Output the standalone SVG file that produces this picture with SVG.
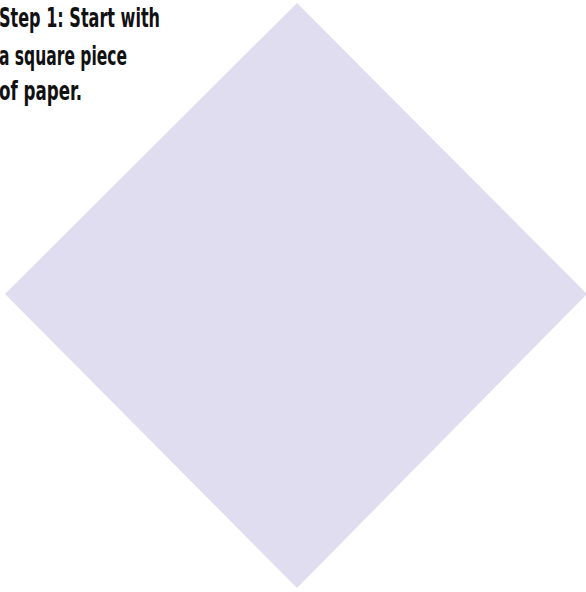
<svg xmlns="http://www.w3.org/2000/svg" width="586" height="592" viewBox="0 0 586 592">
<style>
.lbl{font-family:"DejaVu Sans Condensed","DejaVu Sans","Liberation Sans",sans-serif;font-stretch:condensed;font-weight:bold;font-size:26px;fill:#111}
</style>
<rect width="586" height="592" fill="#ffffff"/>
<g id="paper">
<polygon points="297,3 587,294 297,588 5,294" fill="#e1ddf0"/>
</g>
<g id="caption">
<text class="lbl" x="-1" y="27" textLength="161" lengthAdjust="spacingAndGlyphs">Step 1: Start with</text>
<text class="lbl" x="-1" y="65" textLength="128" lengthAdjust="spacingAndGlyphs">a square piece</text>
<text class="lbl" x="-1" y="100" textLength="83" lengthAdjust="spacingAndGlyphs">of paper.</text>
</g>
</svg>
